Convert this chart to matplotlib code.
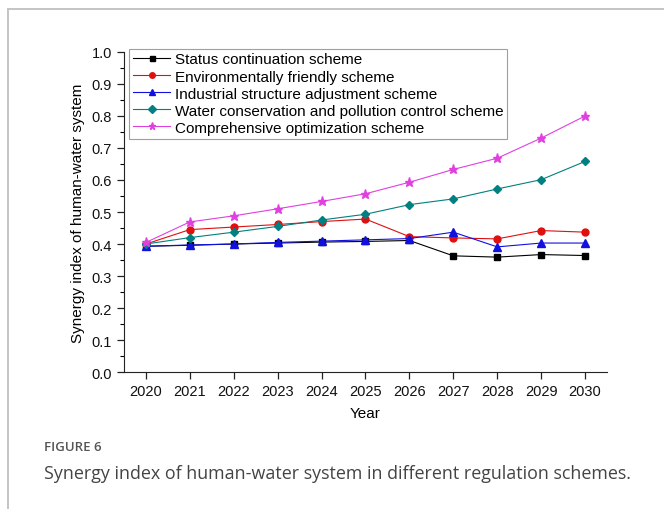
import matplotlib.pyplot as plt
from matplotlib.lines import Line2D
from matplotlib.ticker import MultipleLocator

years = [2020, 2021, 2022, 2023, 2024, 2025, 2026, 2027, 2028, 2029, 2030]

status = [0.393, 0.396, 0.400, 0.403, 0.406, 0.408, 0.411, 0.363, 0.359, 0.367, 0.364]
friendly = [0.400, 0.445, 0.453, 0.461, 0.470, 0.478, 0.423, 0.419, 0.416, 0.442, 0.437]
industrial = [0.393, 0.397, 0.400, 0.405, 0.409, 0.413, 0.417, 0.437, 0.391, 0.403, 0.403]
water = [0.400, 0.420, 0.437, 0.455, 0.475, 0.493, 0.523, 0.541, 0.572, 0.601, 0.658]
comprehensive = [0.405, 0.469, 0.488, 0.510, 0.533, 0.557, 0.593, 0.633, 0.668, 0.731, 0.800]

names = ["Status continuation scheme",
         "Environmentally friendly scheme",
         "Industrial structure adjustment scheme",
         "Water conservation and pollution control scheme",
         "Comprehensive optimization scheme"]

plt.rcParams["font.family"] = ["Liberation Sans", "DejaVu Sans"]

fig = plt.figure(figsize=(6.64, 5.10), dpi=100)
ax = fig.add_axes([0.1867, 0.2686, 0.7275, 0.6275])

styles = [("black", "s", 4.5), ("#e01010", "o", 5), ("#1010e0", "^", 5.5),
          ("#008080", "D", 4.5), ("#e040e0", "*", 6.5)]
series = [status, friendly, industrial, water, comprehensive]

for vals, name, (col, mk, ms) in zip(series, names, styles):
    ax.plot(years, vals, color=col, marker=mk, markersize=ms, linewidth=0.8,
            label=name)

ax.set_xlim(2019.5, 2030.5)
ax.set_ylim(0, 1.0)
ax.set_xticks(years)
ax.yaxis.set_major_locator(MultipleLocator(0.1))
ax.yaxis.set_minor_locator(MultipleLocator(0.05))
ax.yaxis.set_major_formatter(plt.FormatStrFormatter("%.1f"))
ax.spines["top"].set_visible(False)
ax.spines["right"].set_visible(False)
ax.spines["left"].set_color("#222222")
ax.spines["bottom"].set_color("#222222")
ax.tick_params(axis="both", direction="out", length=5, width=0.9,
               labelsize=10.5, color="#222222", labelcolor="#111111")
ax.tick_params(axis="y", which="minor", direction="out", length=3, width=0.8)
ax.set_xlabel("Year", fontsize=11, labelpad=6)
ax.set_ylabel("Synergy index of human-water system", fontsize=11, labelpad=5)

leg = ax.legend(loc="upper left", bbox_to_anchor=(0.005, 1.02), fontsize=11,
                frameon=True, fancybox=False, handlelength=2.4,
                handletextpad=0.3, borderpad=0.25, labelspacing=0.2,
                borderaxespad=0.2, markerscale=0.8)
leg.get_frame().set_edgecolor("#888888")
leg.get_frame().set_linewidth(0.8)

# outer panel border (top and left edges only)
fig.add_artist(Line2D([8 / 664, 1.0], [1 - 10 / 510, 1 - 10 / 510],
                      transform=fig.transFigure, color="#c4c4c4", linewidth=1.4))
fig.add_artist(Line2D([8 / 664, 8 / 664], [0.0, 1 - 10 / 510],
                      transform=fig.transFigure, color="#c4c4c4", linewidth=1.4))

fig.text(44 / 664, 1 - 448 / 510, "FIGURE 6", family=["Open Sans", "DejaVu Sans"],
         fontsize=9.5, fontweight="semibold", color="#555555", va="center")
fig.text(44 / 664, 1 - 474 / 510,
         "Synergy index of human-water system in different regulation schemes.",
         family=["Open Sans", "DejaVu Sans"], fontsize=12.9, color="#444444",
         va="center")

fig.savefig("out.png", dpi=100)
